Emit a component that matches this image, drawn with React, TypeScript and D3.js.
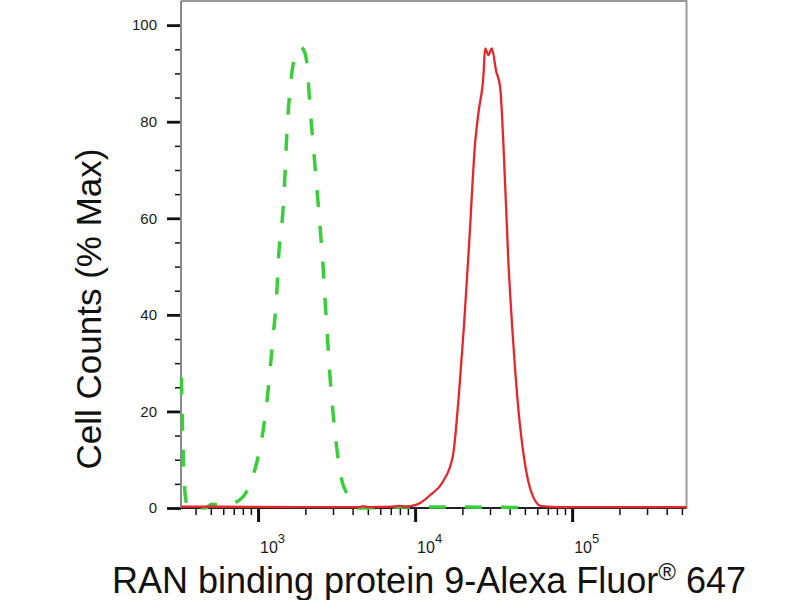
import { useRef, useEffect } from 'react';
import * as d3 from 'd3';

// fluorescence intensity (x) and % of max (y)
const isotypeX = [325, 333, 343, 358, 459, 509, 590, 664, 802, 889, 1000, 1076, 1136, 1192, 1246, 1316, 1347, 1436, 1486, 1524, 1583, 1695, 1852, 1940, 2042, 2143, 2250, 2364, 2482, 2594, 2672, 2763, 2904, 3048, 3246, 3428, 3673, 3910, 4254, 8020, 16700, 46700];
const isotypeY = [27, 12, 3, 0, 0, 0.8, 0.5, 0.8, 2.3, 5, 10.6, 16, 21.7, 28.6, 35.5, 44.5, 51.3, 61, 69.4, 77.6, 85.2, 92.8, 95.5, 95, 92.4, 83, 74.8, 66.5, 58.2, 50, 43, 35.5, 25.1, 17.5, 9.9, 5.5, 3, 1, 0, 0.2, 0.2, 0.1];

const stainedX = [323, 1850, 4450, 4670, 5000, 7450, 7800, 8600, 9700, 10700, 12500, 15000, 17400, 19100, 20500, 22100, 24100, 25300, 27300, 27900, 29300, 30800, 32800, 34800, 36500, 39200, 42100, 45300, 49900, 54800, 63500, 84000, 535000];
const stainedY = [0.3, 0.2, 0.2, 0.4, 0.2, 0.3, 0.45, 0.3, 0.5, 1.0, 2.7, 5.4, 10.8, 24.4, 38, 54.9, 75.5, 81.8, 90, 95.2, 93.8, 95.2, 90.5, 87.2, 75.5, 51.5, 34.6, 21, 9.5, 3.4, 0.4, 0.2, 0.2];

const yTicks = [0, 20, 40, 60, 80, 100];
const yMinorTicks = d3.range(0, 101, 5);
const xDecades = [1000, 10000, 100000];
const xExponents = ['3', '4', '5'];

const xTitle = 'RAN binding protein 9-Alexa Fluor';
const yTitle = 'Cell Counts (% Max)';

const FONT = '"Liberation Sans", Arial, sans-serif';

export default function App() {
    const svgRef = useRef<SVGSVGElement>(null);

    useEffect(() => {
        if (!svgRef.current) return;
        const root = d3.select(svgRef.current);
        root.selectAll('*').remove();

        const left = 181, right = 686.5, top = 1, bottom = 508;

        const x = d3.scaleLog().domain([323, 535000]).range([left, right]);
        const y = d3.scaleLinear().domain([0, 105]).range([bottom, top]);

        // frame (top + right, grey)
        root.append('path')
            .attr('d', `M${left},${top}H${right}V${bottom}`)
            .attr('fill', 'none')
            .attr('stroke', '#9a9a9a')
            .attr('stroke-width', 2);

        // y axis: minor then major ticks
        const yMinor = root.append('g')
            .attr('transform', `translate(${left},0)`)
            .call(d3.axisLeft(y).tickValues(yMinorTicks).tickSize(6).tickFormat(() => ''));
        yMinor.select('.domain').remove();
        yMinor.selectAll('line').attr('stroke', '#111').attr('stroke-width', 1.5);

        const yMajor = root.append('g')
            .attr('transform', `translate(${left},0)`)
            .call(d3.axisLeft(y).tickValues(yTicks).tickSize(14).tickPadding(10));
        yMajor.select('.domain').remove();
        yMajor.selectAll('line').attr('stroke', '#111').attr('stroke-width', 2.8);
        yMajor.selectAll('text')
            .attr('fill', '#1a1a1a')
            .style('font-family', FONT)
            .style('font-size', '15px');

        root.append('line')
            .attr('x1', left).attr('x2', left)
            .attr('y1', top).attr('y2', bottom)
            .attr('stroke', '#8a8a8a').attr('stroke-width', 2);

        // x axis
        const minorVals = x.ticks().filter(v => !xDecades.includes(v));
        const xMinor = root.append('g')
            .attr('transform', `translate(0,${bottom})`)
            .call(d3.axisBottom(x).tickValues(minorVals).tickSize(7).tickFormat(() => ''));
        xMinor.select('.domain').remove();
        xMinor.selectAll('line').attr('stroke', '#111').attr('stroke-width', 1.5);

        const xMajor = root.append('g')
            .attr('transform', `translate(0,${bottom})`)
            .call(d3.axisBottom(x).tickValues(xDecades).tickSize(14).tickFormat(() => ''));
        xMajor.select('.domain').remove();
        xMajor.selectAll('line').attr('stroke', '#111').attr('stroke-width', 3);

        const labels = root.append('g')
            .selectAll('text')
            .data(xDecades)
            .enter()
            .append('text')
            .attr('x', d => x(d) + 2)
            .attr('y', 553)
            .attr('fill', '#1a1a1a')
            .style('font-family', FONT);
        labels.append('tspan').style('font-size', '16px').text('10');
        labels.append('tspan')
            .style('font-size', '13px')
            .attr('dy', -10)
            .text((_d, i) => xExponents[i]);

        root.append('line')
            .attr('x1', left).attr('x2', right)
            .attr('y1', bottom).attr('y2', bottom)
            .attr('stroke', '#222').attr('stroke-width', 2);

        // histograms
        const line = d3.line<[number, number]>()
            .x(d => x(d[0]))
            .y(d => y(d[1]))
            .curve(d3.curveMonotoneX);

        const isotype = isotypeX.map((v, i) => [v, isotypeY[i]] as [number, number]);
        const stained = stainedX.map((v, i) => [v, stainedY[i]] as [number, number]);

        root.append('path')
            .attr('d', line(isotype))
            .attr('fill', 'none')
            .attr('stroke', '#38d038')
            .attr('stroke-width', 3.5)
            .attr('stroke-dasharray', '17 19');

        root.append('path')
            .attr('d', line(stained))
            .attr('fill', 'none')
            .attr('stroke', '#e6262a')
            .attr('stroke-width', 2.3);

        // titles
        const xt = root.append('text')
            .attr('x', 429)
            .attr('y', 593)
            .attr('text-anchor', 'middle')
            .attr('fill', '#111')
            .style('font-family', FONT)
            .style('font-size', '36px');
        xt.append('tspan').text(xTitle);
        xt.append('tspan').style('font-size', '24px').attr('dy', -13).text('®');
        xt.append('tspan').attr('dy', 13).text(' 647');

        root.append('text')
            .attr('transform', 'translate(101,309) rotate(-90)')
            .attr('text-anchor', 'middle')
            .attr('fill', '#111')
            .style('font-family', FONT)
            .style('font-size', '35px')
            .text(yTitle);
    }, []);

    return (
        <div style={{ position: 'absolute', left: 0, top: 0, width: 800, height: 600, background: '#fff' }}>
            <svg ref={svgRef} width={800} height={600}></svg>
        </div>
    );
}
